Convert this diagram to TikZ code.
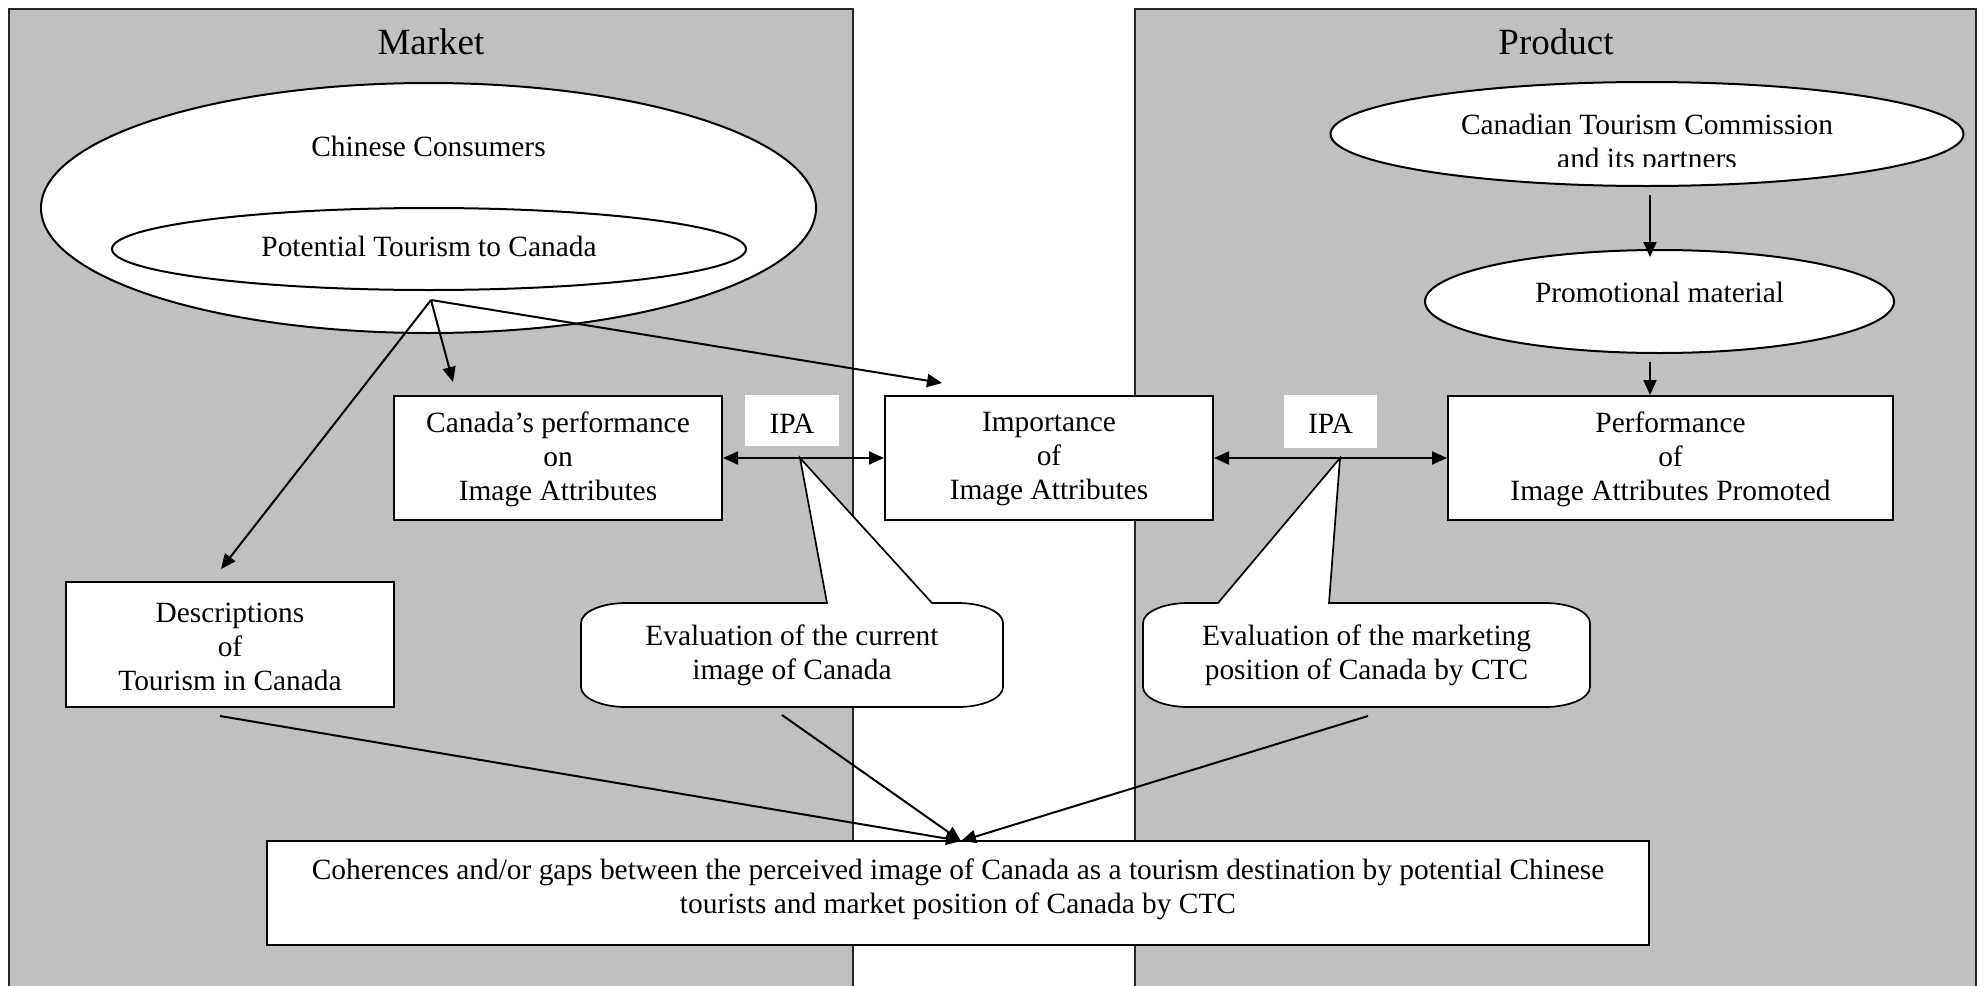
\documentclass[tikz,border=0pt]{standalone}
\usepackage{fontspec}
\setmainfont{Liberation Serif}
\usetikzlibrary{arrows.meta,shapes.geometric,calc}
\definecolor{panelgray}{RGB}{192,192,192}
\begin{document}
\begin{tikzpicture}[x=0.5pt,y=-0.5pt,
  panel/.style={draw=black!85, line width=0.8pt, fill=panelgray},
  box/.style={draw=black, line width=1pt, fill=white, inner sep=0pt, align=center},
  oval/.style={ellipse, draw=black, line width=1pt, fill=white, inner sep=0pt},
  txt/.style={font=\fontsize{14.7pt}{17pt}\selectfont, align=center},
  ttl/.style={font=\fontsize{18.5pt}{21pt}\selectfont},
  arr/.style={-{Triangle[length=7.5pt,width=6.5pt]}, line width=1pt},
  darr/.style={{Triangle[length=7.5pt,width=6.5pt]}-{Triangle[length=7.5pt,width=6.5pt]}, line width=1pt},
  callout/.style={draw=black, line width=0.85pt, fill=white, line join=miter}
]
\useasboundingbox (0,0) rectangle (1986,985);
\fill[white] (0,0) rectangle (1986,985);

% panels
\draw[panel] (9,9) rectangle (853,995);
\draw[panel] (1135,9) rectangle (1976,995);
\node[ttl] (market) at (431,42) {Market};
\node[ttl] (product) at (1556,42) {Product};

% market ellipses
\node[oval, minimum width=387.5pt, minimum height=125pt] (cc) at (428.5,208) {};
\node[txt] (cctext) at (428.5,146) {Chinese Consumers};
\node[oval, minimum width=317pt, minimum height=41pt] (pot) at (429,249) {};
\node[txt] (pottext) at (429,246) {Potential Tourism to Canada};

% product ellipses
\node[oval, minimum width=316.5pt, minimum height=52pt] (ctc) at (1647,134) {};
\begin{scope}
  \clip (1331,95) rectangle (1963,166);
  \node[txt] (ctctext) at (1647,144.5) {Canadian Tourism Commission\\and its partners};
\end{scope}
\node[oval, minimum width=234.5pt, minimum height=51.5pt] (promo) at (1659.5,301.5) {};
\node[txt] (promotext) at (1659.5,292) {Promotional material};

% boxes
\node[box, txt, minimum width=164pt, minimum height=62pt] (can) at (558,458) {};
\node[txt] (cantext) at (558,459.5) {Canada’s performance\\on\\Image Attributes};
\node[box, minimum width=164pt, minimum height=62pt] (imp) at (1049,458) {};
\node[txt] (imptext) at (1049,459.5) {Importance\\of\\Image Attributes};
\node[box, minimum width=222.5pt, minimum height=62pt] (perf) at (1670.5,458) {};
\node[txt] (perftext) at (1670.5,459.5) {Performance\\of\\Image Attributes Promoted};
\node[box, minimum width=164pt, minimum height=62.5pt] (des) at (230,644.5) {};
\node[txt] (destext) at (230,647) {Descriptions\\of\\Tourism in Canada};
\node[fill=white, inner sep=0pt, minimum width=47pt, minimum height=25.5pt] (ipa1) at (792,420.5) {};
\node[txt] (ipa1text) at (792,423.5) {IPA};
\node[fill=white, inner sep=0pt, minimum width=46.5pt, minimum height=26.5pt] (ipa2) at (1330.5,421.5) {};
\node[txt] (ipa2text) at (1330.5,423.5) {IPA};

% callouts
\draw[callout] (827,603) -- (800,458) -- (932,603) -- (958,603)
  .. controls (982.8,603) and (1003,612) .. (1003,623) -- (1003,687)
  .. controls (1003,698) and (982.8,707) .. (958,707) -- (626,707)
  .. controls (601.2,707) and (581,698) .. (581,687) -- (581,623)
  .. controls (581,612) and (601.2,603) .. (626,603) -- cycle;
\node[txt] (ev1) at (792,655) {Evaluation of the current\\image of Canada};
\draw[callout] (1218,603) -- (1340,458) -- (1329,603) -- (1545,603)
  .. controls (1569.8,603) and (1590,612) .. (1590,623) -- (1590,687)
  .. controls (1590,698) and (1569.8,707) .. (1545,707) -- (1188,707)
  .. controls (1163.2,707) and (1143,698) .. (1143,687) -- (1143,623)
  .. controls (1143,612) and (1163.2,603) .. (1188,603) -- cycle;
\node[txt] (ev2) at (1366.5,655) {Evaluation of the marketing\\position of Canada by CTC};

% bottom box
\node[box, minimum width=691pt, minimum height=52pt] (bot) at (958,893) {};
\node[txt] (bottext) at (958,889.5) {Coherences and/or gaps between the perceived image of Canada as a tourism destination by potential Chinese\\tourists and market position of Canada by CTC};

% connectors
\coordinate (src) at (431,300);
\coordinate (tCan) at (453,382);
\coordinate (tImp) at (942,383);
\coordinate (tDes) at (221,569);
\draw[arr] (src) -- (tCan);
\draw[arr] (src) -- (tImp);
\draw[arr] (src) -- (tDes);

\draw[darr] (can.east) -- (imp.west);
\draw[darr] (imp.east) -- (perf.west);

\coordinate (c1) at (1650,195);
\coordinate (c2) at (1650,257);
\draw[arr] (c1) -- (c2);
\coordinate (p1) at (1650,362);
\draw[arr] (p1) -- (perf.north -| p1);

\coordinate (sDes) at (220,716);
\coordinate (sEv1) at (782,715);
\coordinate (sEv2) at (1368,716);
\coordinate (conv) at (961,841);
\draw[arr] (sDes) -- (conv);
\draw[arr] (sEv1) -- (conv);
\draw[arr] (sEv2) -- (conv);
\end{tikzpicture}
\end{document}
